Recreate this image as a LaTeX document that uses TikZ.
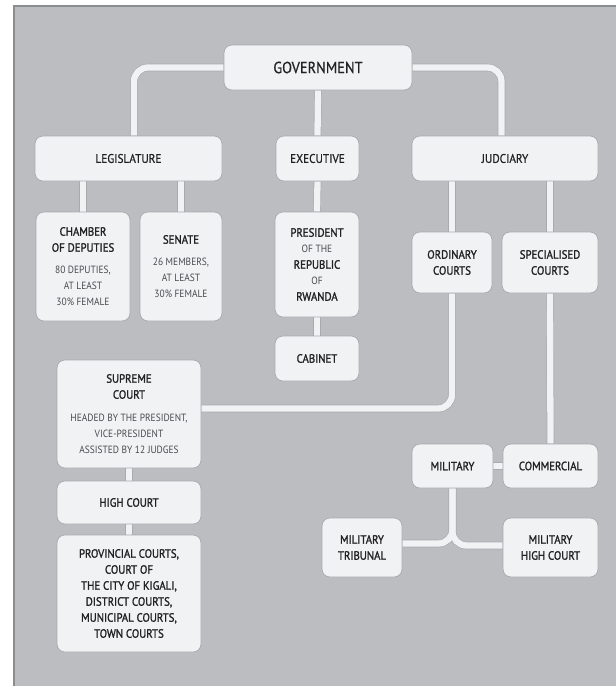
\documentclass[tikz,border=0pt]{standalone}
\usepackage{fontspec}
\setmainfont{PT Sans}[FakeStretch=0.9]
\newfontfamily\labfont{PT Sans}[FakeStretch=0.9, FakeBold=1.5]
\newfontfamily\topfont{PT Sans}[FakeStretch=0.9, FakeBold=0.6]
\definecolor{bggray}{HTML}{BCBDC1}
\definecolor{framegray}{HTML}{8C8D90}
\definecolor{boxfill}{HTML}{F1F2F4}
\definecolor{boxedge}{HTML}{A9AAAE}
\definecolor{txt}{HTML}{222224}
\definecolor{subtxt}{HTML}{4A4B4E}
\pgfdeclarelayer{back}
\pgfdeclarelayer{bg}
\pgfsetlayers{back,bg,main}
\newcommand\smtxt[1]{{\fontsize{10.5}{16}\selectfont\normalfont\color{subtxt}#1}}
\tikzset{
  box/.style={draw=boxedge, line width=0.7pt, fill=boxfill, rounded corners=8pt,
    inner sep=0pt, align=center, text=txt,
    font=\fontsize{12}{16}\selectfont\labfont},
  topbox/.style={box, font=\fontsize{12.5}{16}\selectfont\topfont},
  connedge/.style={line width=7.6pt, draw=boxedge, rounded corners=14pt},
  connfill/.style={line width=6.3pt, draw=boxfill, rounded corners=14pt},
}
\newcommand\bx[6]{% name, x, y, w, h, style
  \node[#6, minimum width=#4pt, minimum height=#5pt] (#1) at (#2,#3)}
\newcommand\allconns[1]{%
  \draw[#1] (gov.west) -| ([xshift=5.5pt]leg.north);
  \draw[#1] (gov.east) -| ([xshift=-3.5pt]jud.north);
  \draw[#1] (gov.south) -- (exe.north);
  \draw[#1] (cham.north |- leg.south) -- (cham.north);
  \draw[#1] (sen.north |- leg.south) -- (sen.north);
  \draw[#1] (exe.south) -- (pres.north);
  \draw[#1] (pres.south) -- (cab.north);
  \draw[#1] (ord.north |- jud.south) -- (ord.north);
  \draw[#1] (spec.north |- jud.south) -- (spec.north);
  \draw[#1] (ord.south) |- ([yshift=5.5pt]sup.east);
  \draw[#1] (spec.south) -- (com.north);
  \draw[#1] (mil.east) -- (com.west);
  \draw[#1] (sup.south) -- (high.north);
  \draw[#1] (high.south) -- (prov.north);
  \draw[#1] (mil.south) |- ([yshift=4pt]miltri.east);
  \draw[#1] (mil.south) |- ([yshift=2pt]milhc.west);
}
\begin{document}
\begin{tikzpicture}[x=1pt,y=-1pt]
\useasboundingbox (0,0) rectangle (616,686);
\begin{pgfonlayer}{back}
\fill[white] (0,0) rectangle (616,686);
\fill[bggray] (13,5) rectangle (616,686);
\draw[framegray, line width=2pt] (14,686) -- (14,6) -- (616,6);
\end{pgfonlayer}

\bx{gov}{318}{67.5}{188}{45}{topbox, font=\fontsize{16}{18}\selectfont\topfont}{GOVERNMENT};
\bx{leg}{128.5}{158.5}{187}{45}{topbox}{LEGISLATURE};
\bx{exe}{317.5}{158.5}{83}{45}{topbox}{EXECUTIVE};
\bx{jud}{505}{158.5}{186}{45}{topbox}{JUDCIARY};
\bx{cham}{83}{266.5}{94}{109}{box}{CHAMBER\\OF DEPUTIES\\[6pt]\smtxt{80 DEPUTIES,}\\\smtxt{AT LEAST}\\\smtxt{30\% FEMALE}};
\bx{sen}{181}{266.5}{82}{109}{box}{SENATE\\[6pt]\smtxt{26 MEMBERS,}\\\smtxt{AT LEAST}\\\smtxt{30\% FEMALE}};
\bx{pres}{317}{264.5}{84}{105}{box}{PRESIDENT\\\smtxt{OF THE}\\REPUBLIC\\\smtxt{OF}\\RWANDA};
\bx{cab}{317}{358.5}{84}{45}{box}{CABINET};
\bx{ord}{452}{262.5}{80}{61}{box}{ORDINARY\\COURTS};
\bx{spec}{550}{262.5}{96}{61}{box}{SPECIALISED\\COURTS};
\bx{sup}{129}{414}{144}{108}{box}{SUPREME\\COURT\\[7pt]\smtxt{HEADED BY THE PRESIDENT,}\\\smtxt{VICE-PRESIDENT}\\\smtxt{ASSISTED BY 12 JUDGES}};
\bx{high}{129}{502.5}{144}{43}{box}{HIGH COURT};
\bx{prov}{129}{593.5}{144}{117}{box}{PROVINCIAL COURTS,\\COURT OF\\THE CITY OF KIGALI,\\DISTRICT COURTS,\\MUNICIPAL COURTS,\\TOWN COURTS};
\bx{mil}{452.5}{466}{81}{44}{box}{MILITARY};
\bx{com}{550.5}{466}{95}{44}{box}{COMMERCIAL};
\bx{miltri}{362}{547.5}{80}{59}{box}{MILITARY\\TRIBUNAL};
\bx{milhc}{550.5}{547.5}{95}{59}{box}{MILITARY\\HIGH COURT};

\begin{pgfonlayer}{bg}
\allconns{connedge}
\allconns{connfill}
\end{pgfonlayer}
\end{tikzpicture}
\end{document}
